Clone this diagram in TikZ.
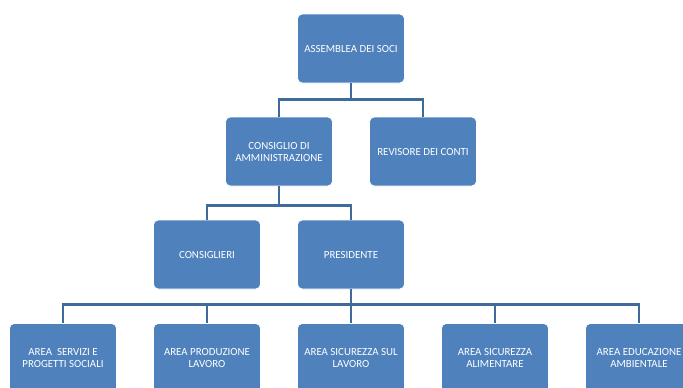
\documentclass[tikz,border=0pt]{standalone}
\usepackage{fontspec}
\setmainfont{Carlito}
\usepackage{tikz}
\usetikzlibrary{shapes,arrows,calc,positioning}

\definecolor{boxblue}{HTML}{4F81BD}
\definecolor{linkblue}{HTML}{3E6A9C}

\begin{document}
\begin{tikzpicture}[x=1pt, y=-1pt,
	every node/.style={draw=white, line width=0.6pt, fill=boxblue, rounded corners=5pt, text=white, minimum width=107pt, minimum height=69pt, align=center, inner sep=2pt, font=\fontsize{10.9}{12}\selectfont}]
	\useasboundingbox (0,0) rectangle (683,388);
	\clip (0,0) rectangle (683,388);

	\node (soci) at (351,48.5) {ASSEMBLEA DEI SOCI};
	\node (cda) at (279,151.5) {CONSIGLIO DI\\AMMINISTRAZIONE};
	\node (revisore) at (423,151.5) {REVISORE DEI CONTI};
	\node (consiglieri) at (207,254.5) {CONSIGLIERI};
	\node (presidente) at (351,254.5) {PRESIDENTE};
	\node (servizi) at (63,358) {AREA\ \ SERVIZI E\\PROGETTI SOCIALI};
	\node (produzione) at (207,358) {AREA PRODUZIONE\\LAVORO};
	\node (sicurezza) at (351,358) {AREA SICUREZZA SUL\\LAVORO};
	\node (alimentare) at (495,358) {AREA SICUREZZA\\ALIMENTARE};
	\node (ambiente) at (639,358) {AREA EDUCAZIONE\\AMBIENTALE};

\begin{scope}[every path/.style={draw=linkblue, line width=2.6pt}]
	\draw (soci.south) -- ++(0,16) -| (cda.north);
	\draw (soci.south) -- ++(0,16) -| (revisore.north);
	\draw (cda.south) -- ++(0,19) -| (consiglieri.north);
	\draw (cda.south) -- ++(0,19) -| (presidente.north);
	\draw (presidente.south) -- ++(0,15) -| (servizi.north);
	\draw (presidente.south) -- ++(0,15) -| (produzione.north);
	\draw (presidente.south) -- (sicurezza.north);
	\draw (presidente.south) -- ++(0,15) -| (alimentare.north);
	\draw (presidente.south) -- ++(0,15) -| (ambiente.north);
\end{scope}

\end{tikzpicture}
\end{document}
